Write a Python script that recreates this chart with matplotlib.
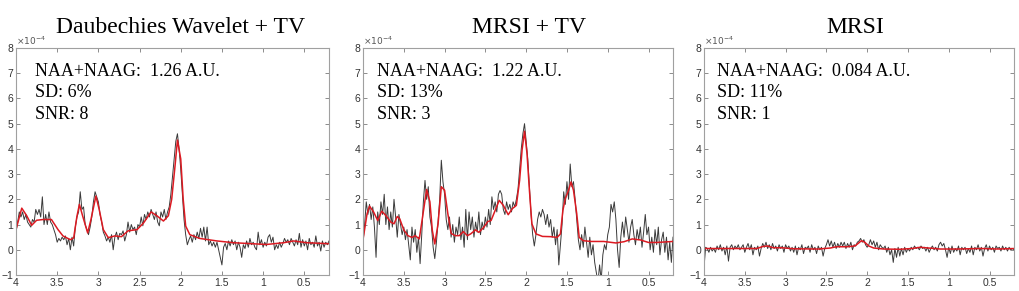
import matplotlib
matplotlib.use('Agg')
import matplotlib.pyplot as plt
import numpy as np

# titulos y textos de cada panel
titulos = ['Daubechies Wavelet + TV', 'MRSI + TV', 'MRSI']
naa = ['NAA+NAAG:  1.26 A.U.', 'NAA+NAAG:  1.22 A.U.', 'NAA+NAAG:  0.084 A.U.']
sd = ['SD: 6%', 'SD: 13%', 'SD: 11%']
snr = ['SNR: 8', 'SNR: 3', 'SNR: 1']

# espectro medido (unidades de 1e-4), muestras de 4.00 a 0.20 ppm cada 0.02 ppm
medido_1 = [
    0.7, 1.1, 1.5, 1.3, 1.5, 1.2, 1.4, 1.1, 1.0, 0.9,
    1.2, 1.1, 1.6, 1.4, 1.6, 1.3, 2.1, 1.0, 1.4, 1.0,
    1.5, 1.1, 1.0, 0.8, 0.6, 0.3, 0.45, 0.35, 0.5, 0.4,
    0.55, 0.2, 0.45, 0.0, 0.5, 0.15, 0.9, 1.3, 1.5, 2.3,
    1.6, 1.7, 1.0, 0.8, 0.6, 0.9, 1.3, 1.9, 2.3, 2.1,
    1.9, 1.4, 1.1, 0.7, 0.55, 0.35, 0.5, 0.3, 0.6, 0.0,
    0.5, 0.7, 0.4, 0.65, 0.6, 0.75, 0.35, 0.6, 1.1, 0.7,
    1.0, 0.8, 0.9, 0.6, 1.0, 0.9, 1.3, 0.95, 1.4, 1.2,
    1.5, 1.3, 1.6, 1.4, 1.2, 1.5, 1.1, 0.95, 1.5, 1.3,
    1.6, 1.2, 1.5, 1.7, 2.2, 2.9, 3.6, 4.3, 4.6, 4.0,
    3.2, 2.2, 1.2, 0.6, 0.2, 0.4, 0.55, 0.3, 0.6, 0.4,
    0.7, 0.45, 0.85, 0.5, 0.9, 0.35, 0.9, 0.2, 0.35, 0.15,
    0.3, 0.1, 0.3, 0.0, -0.3, -0.6, 0.1, 0.25, 0.0, 0.35,
    0.15, 0.4, 0.2, 0.35, 0.0, 0.3, 0.1, -0.3, 0.2, 0.05,
    0.35, 0.1, 0.45, 0.2, 0.3, 0.1, 0.0, 0.7, 0.2, 0.4,
    0.1, 0.3, 0.15, 0.5, 0.6, 0.3, 0.5, 0.0, 0.2, 0.05,
    0.3, 0.1, 0.25, 0.45, 0.3, 0.4, 0.2, 0.45, 0.3, 0.15,
    0.4, 0.2, 0.65, 0.1, 0.4, 0.15, 0.35, 0.0, 0.45, 0.2,
    0.3, 0.1, 0.55, 0.15, 0.3, -0.05, 0.35, 0.1, 0.3, 0.2,
    0.35]

medido_2 = [
    0.3, 1.0, 1.9, 1.4, 1.8, 1.2, 1.7, 0.9, -0.3, 1.5,
    1.0, 1.9, 1.4, 2.2, 1.0, 1.7, 0.8, 1.5, 0.9, 2.0,
    1.3, 0.5, 1.4, 1.0, 0.6, 0.9, 0.4, 0.8, 0.2, -0.4,
    0.9, 0.3, 0.8, -0.1, 0.5, -0.55, 0.6, 1.9, 2.75, 2.0,
    2.5, 1.3, 0.9, 0.1, -0.35, 0.3, 1.1, 2.0, 3.55, 2.7,
    2.2, 1.2, 0.8, 1.3, 0.5, 1.0, 0.3, 0.9, 0.6, 1.3,
    0.4, 0.9, 0.1, 1.6, 0.4, 1.5, 0.8, 1.3, 0.5, 1.1,
    0.7, 1.5, 0.6, 1.1, 0.8, 1.3, 0.9, 1.6, 1.0, 2.1,
    1.6, 1.9, 1.5, 2.2, 2.35, 2.2, 1.6, 1.4, 1.9, 1.6,
    1.8, 1.5, 1.9, 1.7, 2.0, 2.4, 3.2, 4.0, 4.6, 5.0,
    4.3, 3.6, 2.5, 1.4, 0.6, 0.15, 0.6, 1.2, 1.5, 1.3,
    1.6, 1.4, 1.0, 1.4, 0.9, 1.2, 0.5, 0.9, 0.2, 0.8,
    -0.6, 0.2, 1.0, 2.3, 1.8, 2.7, 2.0, 3.4, 2.5, 2.7,
    2.0, 1.2, 0.4, 0.0, 0.6, 0.1, 0.9, 0.3, -0.3, 0.5,
    -0.2, 0.2, -0.5, -0.9, -1.3, -0.6, -1.2, -0.2, 0.2, 0.0,
    0.6, 0.9, 1.8, 1.5, 1.9, 1.2, 0.0, -0.7, 0.5, 1.1,
    0.5, 1.3, 0.8, 0.3, 0.9, 1.2, 0.6, 0.2, 0.8, 0.4,
    0.9, 0.1, 0.7, 1.4, 0.6, 0.9, 0.0, 0.5, -0.1, 0.8,
    0.2, 0.9, -0.2, 0.4, 0.7, -0.1, 0.5, -0.4, 0.3, -0.5,
    0.5]

medido_3 = [
    -0.7, 0.1, 0.05, -0.1, 0.1, -0.05, 0.05, -0.1, 0.15, 0.0,
    0.2, -0.05, 0.1, -0.2, 0.15, -0.45, 0.1, 0.2, 0.0, 0.15,
    0.05, 0.2, 0.0, 0.1, 0.2, -0.1, 0.1, 0.25, 0.0, 0.2,
    -0.2, 0.1, 0.0, 0.15, -0.25, 0.05, 0.25, 0.1, 0.3, 0.05,
    0.2, 0.0, 0.25, 0.05, 0.15, -0.05, 0.2, 0.05, 0.15, -0.1,
    0.2, 0.05, 0.15, -0.05, 0.1, -0.1, 0.15, -0.2, 0.1, 0.0,
    0.2, -0.15, 0.1, 0.05, 0.15, -0.1, 0.2, 0.0, 0.1, -0.15,
    0.15, 0.0, 0.1, -0.25, 0.05, 0.2, 0.4, 0.15, 0.35, 0.1,
    0.3, 0.05, 0.25, 0.1, 0.3, 0.15, 0.3, 0.05, 0.25, 0.1,
    0.3, 0.0, 0.2, 0.15, 0.3, 0.35, 0.45, 0.3, 0.4, 0.2,
    0.1, 0.2, 0.4, 0.2, 0.35, 0.1, 0.3, 0.0, 0.2, 0.1,
    0.05, 0.15, -0.1, 0.1, -0.2, 0.0, -0.5, 0.05, -0.3, 0.1,
    -0.25, 0.05, -0.2, 0.1, -0.1, 0.05, -0.05, 0.1, 0.0, 0.15,
    0.05, 0.1, 0.0, 0.15, 0.05, 0.1, -0.05, 0.1, -0.1, 0.05,
    0.15, 0.0, 0.1, -0.05, 0.2, 0.3, 0.15, 0.25, 0.0, -0.3,
    0.1, -0.15, 0.15, -0.1, 0.05, -0.05, 0.15, -0.2, 0.1, 0.0,
    0.1, -0.15, 0.05, -0.1, 0.15, -0.2, 0.1, 0.0, 0.2, -0.05,
    0.1, -0.25, 0.05, 0.2, -0.05, 0.15, 0.0, 0.1, -0.1, 0.15,
    0.05, 0.1, -0.05, 0.15, 0.0, 0.1, -0.05, 0.1, 0.0, 0.05,
    0.0]

# ajuste (linea roja)
ppm_ajuste_1 = [4.0, 3.93, 3.87, 3.81, 3.75, 3.67, 3.57, 3.49, 3.43, 3.34,
                3.30, 3.26, 3.23, 3.19, 3.13, 3.09, 3.03, 2.99, 2.94, 2.88,
                2.80, 2.72, 2.64, 2.53, 2.45, 2.36, 2.29, 2.21, 2.15, 2.11,
                2.07, 2.04, 2.0, 1.97, 1.94, 1.89, 1.77, 1.56, 1.36, 0.96,
                0.75, 0.63, 0.47, 0.2]
ajuste_1 = [0.8, 1.65, 1.35, 0.97, 1.17, 1.2, 1.2, 0.8, 0.55, 0.4,
            0.47, 1.33, 1.8, 1.33, 0.67, 1.2, 2.13, 1.6, 0.8, 0.48,
            0.55, 0.52, 0.75, 0.8, 1.07, 1.5, 1.35, 1.14, 1.35, 2.0,
            3.3, 4.35, 3.6, 2.0, 0.94, 0.6, 0.45, 0.35, 0.28, 0.21,
            0.28, 0.35, 0.28, 0.24]

ppm_ajuste_2 = [4.0, 3.95, 3.92, 3.87, 3.82, 3.77, 3.72, 3.66, 3.62, 3.58,
                3.55, 3.50, 3.45, 3.40, 3.36, 3.31, 3.27, 3.22, 3.18, 3.15,
                3.12, 3.08, 3.04, 3.00, 2.96, 2.92, 2.87, 2.82, 2.77, 2.72,
                2.68, 2.62, 2.58, 2.52, 2.47, 2.43, 2.38, 2.33, 2.28, 2.22,
                2.17, 2.12, 2.08, 2.05, 2.02, 1.99, 1.96, 1.93, 1.88, 1.80,
                1.70, 1.62, 1.58, 1.55, 1.52, 1.48, 1.45, 1.42, 1.38, 1.35,
                1.30, 1.20, 1.05, 0.90, 0.80, 0.70, 0.60, 0.50, 0.40, 0.2]
ajuste_2 = [0.4, 1.43, 1.73, 1.5, 1.16, 1.53, 1.36, 1.1, 1.03, 1.32,
            1.23, 0.79, 0.56, 0.49, 0.56, 0.43, 1.3, 2.39, 1.9, 0.76,
            0.23, 1.03, 2.5, 2.36, 1.43, 0.65, 0.56, 0.56, 0.72, 0.56,
            0.63, 0.79, 0.69, 0.89, 1.12, 1.16, 1.56, 1.96, 1.76, 1.39,
            1.63, 1.76, 2.76, 3.96, 4.7, 3.83, 2.36, 1.03, 0.63, 0.53,
            0.52, 0.49, 0.63, 1.56, 2.03, 2.36, 2.69, 2.36, 1.43, 0.49,
            0.36, 0.33, 0.33, 0.27, 0.32, 0.43, 0.39, 0.29, 0.29, 0.33]

ppm_ajuste_3 = [4.0, 3.6, 3.35, 3.28, 3.22, 3.15, 3.05, 2.9, 2.6, 2.45,
                2.38, 2.25, 2.15, 2.10, 2.07, 2.03, 1.98, 1.92, 1.8, 1.6,
                1.45, 1.35, 1.25, 1.1, 0.9, 0.6, 0.4, 0.2]
ajuste_3 = [0.05, 0.05, 0.05, 0.13, 0.15, 0.08, 0.08, 0.04, 0.03, 0.07,
            0.12, 0.12, 0.15, 0.28, 0.36, 0.30, 0.15, 0.07, 0.03, 0.02,
            0.05, 0.10, 0.07, 0.03, 0.03, 0.05, 0.03, 0.05]

medidos = [medido_1, medido_2, medido_3]
ppm_ajustes = [ppm_ajuste_1, ppm_ajuste_2, ppm_ajuste_3]
ajustes = [ajuste_1, ajuste_2, ajuste_3]

serif = 'Liberation Serif'
plt.rcParams['font.family'] = 'Liberation Sans'

fig = plt.figure(figsize=(10.2, 2.91), dpi=100)

lefts = [16 / 1020, 363 / 1020, 704 / 1020]
widths = [313 / 1020, 310 / 1020, 310 / 1020]
centros_titulo = [181 / 1020, 529 / 1020, 855 / 1020]
x_texto = [0.062, 0.044, 0.041]

for k in range(3):
    ax = fig.add_axes([lefts[k], 16 / 291, widths[k], 227 / 291])
    ppm = np.linspace(4.0, 0.2, len(medidos[k]))
    ax.plot(ppm, medidos[k], color='#3a3a3a', linewidth=0.7)
    ax.plot(ppm_ajustes[k], ajustes[k], color='#dc1a22', linewidth=1.1)

    ax.set_xlim(4, 0.2)
    ax.set_ylim(-1, 8)
    ax.set_xticks([4, 3.5, 3, 2.5, 2, 1.5, 1, 0.5])
    ax.set_xticklabels(['4', '3.5', '3', '2.5', '2', '1.5', '1', '0.5'])
    ax.set_yticks(range(-1, 9))
    ax.tick_params(direction='in', length=3, width=0.6, color='#7a7a7a',
                   labelsize=7.5, labelcolor='#333333', pad=2,
                   top=True, right=True)
    for s in ax.spines.values():
        s.set_color('#a0a0a0')
        s.set_linewidth(0.8)

    ax.text(0.0, 1.006, r'$\times10^{-4}$', transform=ax.transAxes,
            fontsize=6.5, color='#555555', ha='left', va='bottom')

    ax.text(x_texto[k], 0.877, naa[k], transform=ax.transAxes,
            family=serif, fontsize=13, va='baseline')
    ax.text(x_texto[k], 0.784, sd[k], transform=ax.transAxes,
            family=serif, fontsize=13, va='baseline')
    ax.text(x_texto[k], 0.687, snr[k], transform=ax.transAxes,
            family=serif, fontsize=13, va='baseline')

    fig.text(centros_titulo[k], (291 - 33) / 291, titulos[k], family=serif,
             fontsize=17, ha='center', va='baseline')

plt.savefig('out.png', dpi=100)
